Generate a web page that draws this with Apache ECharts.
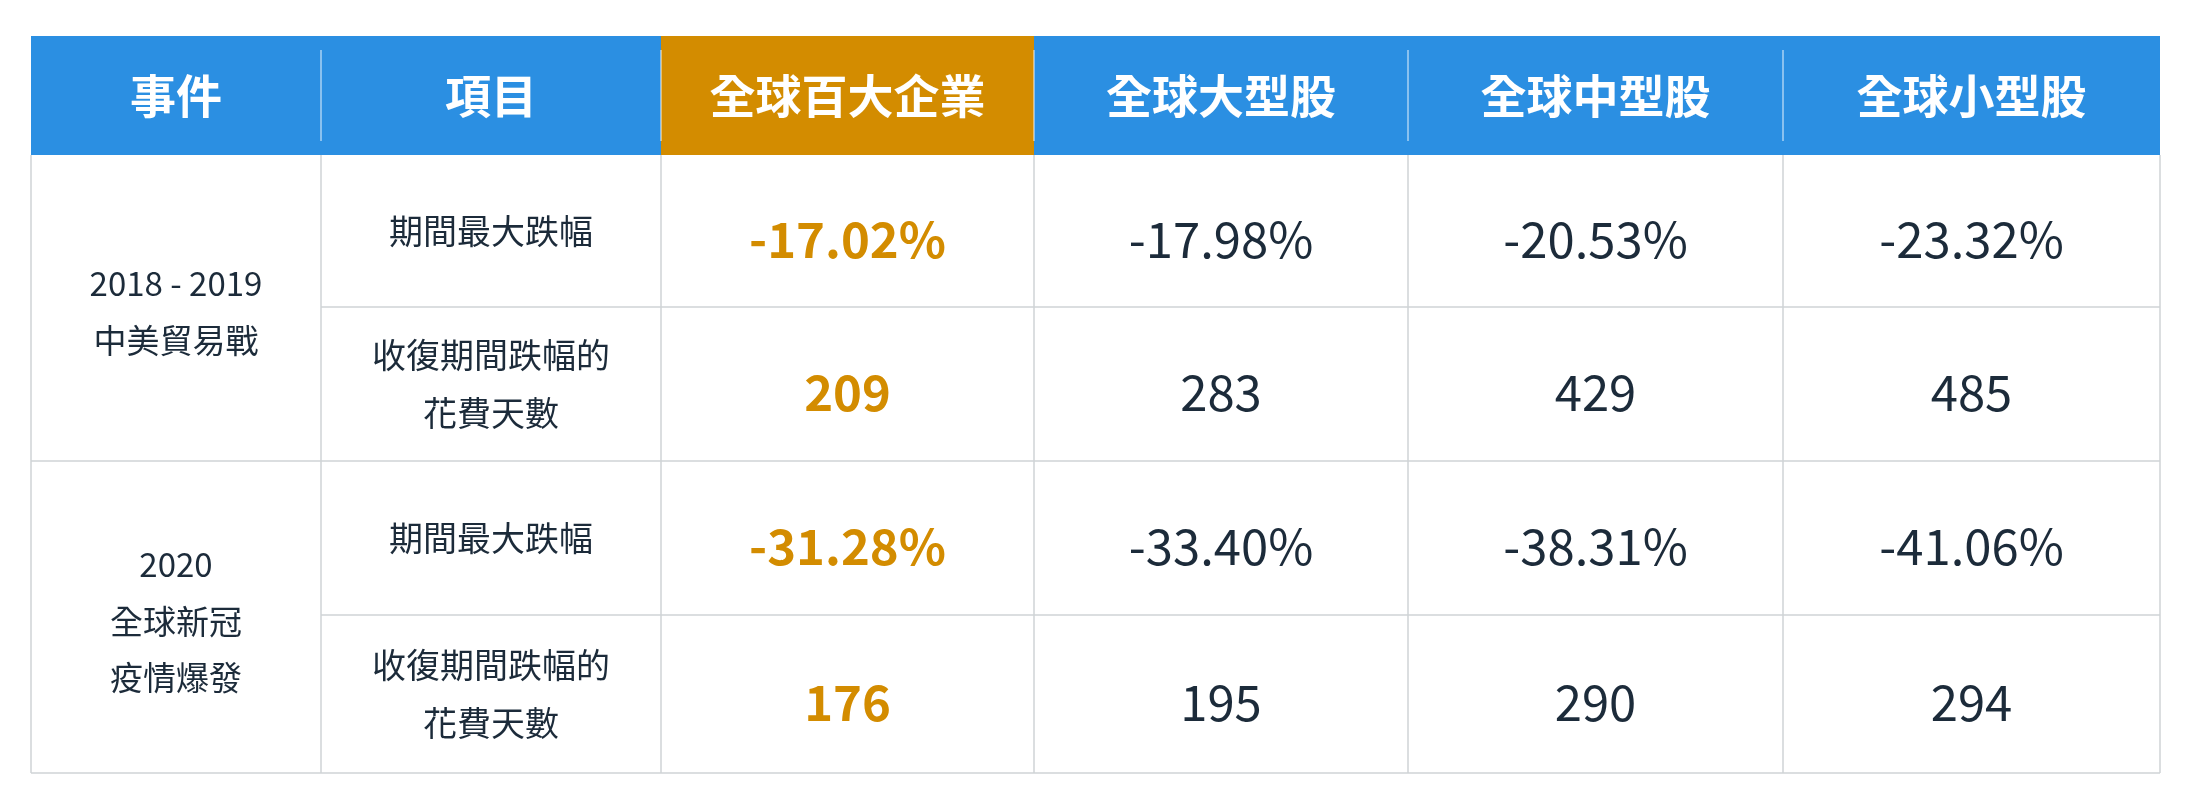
<!DOCTYPE html>
<html><head><meta charset="utf-8">
<script src="https://cdn.jsdelivr.net/npm/echarts@6/dist/echarts.min.js"></script>
<style>html,body{margin:0;background:#fff}#main{width:2190px;height:810px}</style>
</head><body><div id="main"></div>
<script>
var headers = ['事件', '項目', '全球百大企業', '全球大型股', '全球中型股', '全球小型股'];
var events = [['2018 - 2019', '中美貿易戰'], ['2020', '全球新冠', '疫情爆發']];
var items = [['期間最大跌幅'], ['收復期間跌幅的', '花費天數']];
var values = [
    ['-17.02%', '-17.98%', '-20.53%', '-23.32%'],
    ['209', '283', '429', '485'],
    ['-31.28%', '-33.40%', '-38.31%', '-41.06%'],
    ['176', '195', '290', '294']
];

var colX = [31, 321, 661, 1034, 1408, 1783, 2160];
var top0 = 36, headH = 119, rowH = [152, 154, 154, 158];
var blue = '#2b8fe2', gold = '#d38c00', ink = '#1c2b3a', grid = '#cfd3d6';
var font = '"Noto Sans CJK TC", "Noto Sans", sans-serif';

var g = [];
// header
for (var c = 0; c < headers.length; c++) {
    g.push({ type: 'rect', shape: { x: colX[c], y: top0, width: colX[c + 1] - colX[c], height: headH },
        style: { fill: c === 2 ? gold : blue } });
    g.push({ type: 'text', x: (colX[c] + colX[c + 1]) / 2, y: top0 + headH / 2,
        style: { text: headers[c], fill: '#fff', font: 'bold 46px ' + font, align: 'center', verticalAlign: 'middle' } });
    if (c > 0) g.push({ type: 'line', shape: { x1: colX[c], y1: top0 + 14, x2: colX[c], y2: top0 + headH - 14 },
        style: { stroke: 'rgba(255,255,255,0.6)', lineWidth: 1.5 } });
}
// rows
var rowY = [top0 + headH];
rowH.forEach(function (h, i) { rowY.push(rowY[i] + h); });
var bottom = rowY[rowY.length - 1];
function lines(arr, cx, cy, size, color, weight) {
    var gap = size * 1.72;
    arr.forEach(function (t, k) {
        g.push({ type: 'text', x: cx, y: cy + (k - (arr.length - 1) / 2) * gap,
            style: { text: t, fill: color, font: weight + ' ' + size + 'px ' + font, align: 'center', verticalAlign: 'middle' } });
    });
}
for (var r = 0; r < values.length; r++) {
    var cy = (rowY[r] + rowY[r + 1]) / 2;
    lines(items[r % 2], (colX[1] + colX[2]) / 2, cy, 34, ink, 'normal');
    for (var v = 0; v < values[r].length; v++) {
        lines([values[r][v]], (colX[v + 2] + colX[v + 3]) / 2, cy + 8, 49, v === 0 ? gold : ink, v === 0 ? 'bold' : 'normal');
    }
    if (r < values.length - 1) {
        var x1 = r % 2 === 0 ? colX[1] : colX[0];
        g.push({ type: 'line', shape: { x1: x1, y1: rowY[r + 1], x2: colX[6], y2: rowY[r + 1] }, style: { stroke: grid, lineWidth: 1.5 } });
    }
}
events.forEach(function (e, i) {
    lines(e, (colX[0] + colX[1]) / 2, (rowY[i * 2] + rowY[i * 2 + 2]) / 2 + 4, 33, ink, 'normal');
});
for (var c2 = 0; c2 < colX.length; c2++) {
    g.push({ type: 'line', shape: { x1: colX[c2], y1: top0 + headH, x2: colX[c2], y2: bottom }, style: { stroke: grid, lineWidth: 1.5 } });
}
g.push({ type: 'line', shape: { x1: colX[0], y1: bottom, x2: colX[6], y2: bottom }, style: { stroke: grid, lineWidth: 1.5 } });

var chart = echarts.init(document.getElementById('main'));
chart.setOption({ graphic: { elements: g } });
</script></body></html>
